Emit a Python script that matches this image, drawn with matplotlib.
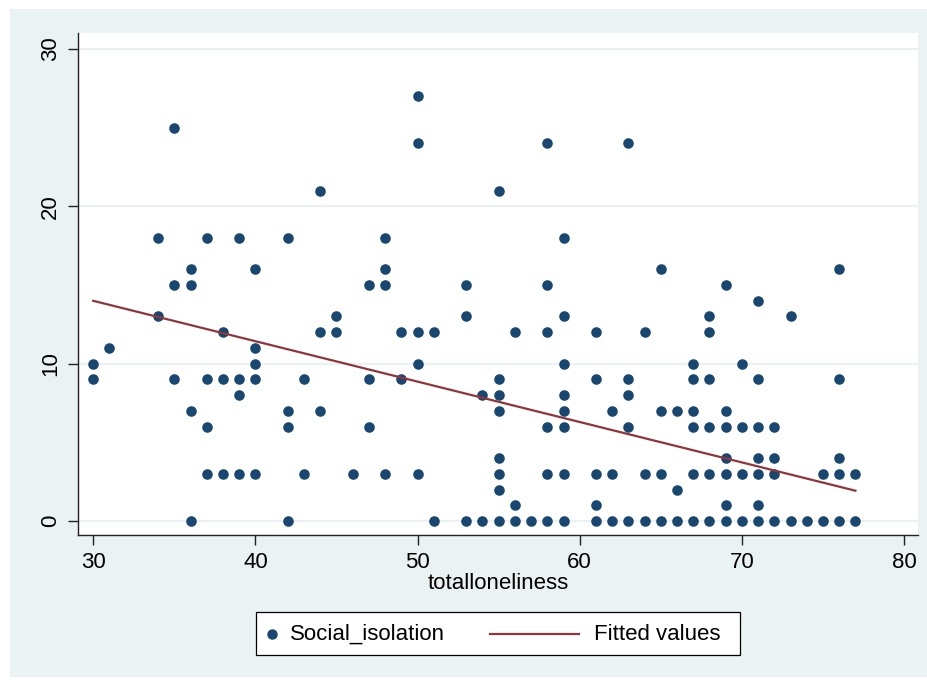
import matplotlib.pyplot as plt
import numpy as np
from matplotlib.patches import Rectangle
from matplotlib.lines import Line2D

plt.rcParams['font.family'] = ['Liberation Sans', 'DejaVu Sans']

#data: totalloneliness -> Social_isolation values at that score------
loneliness = [30, 31, 34, 35, 36, 37, 38, 39, 40, 42, 43, 44, 45, 46, 47, 48, 49, 50,
              51, 53, 54, 55, 56, 57, 58, 59, 61, 62, 63, 64, 65, 66, 67, 68, 69, 70,
              71, 72, 73, 74, 75, 76, 77]
isolation = [
    [10, 9], [11], [18, 13], [25, 15, 9], [16, 15, 7, 0], [18, 9, 6, 3],
    [12, 9, 3], [18, 9, 8, 3], [16, 11, 10, 9, 3], [18, 7, 6, 0], [9, 3],
    [21, 12, 7], [13, 12], [3], [15, 9, 6], [18, 16, 15, 3], [12, 9],
    [27, 24, 12, 10, 3], [12, 0], [15, 13, 0], [8, 0],
    [21, 9, 8, 7, 4, 3, 2, 0], [12, 1, 0], [0], [24, 15, 12, 6, 3, 0],
    [18, 13, 10, 8, 7, 6, 3, 0], [12, 9, 3, 1, 0], [7, 3, 0], [24, 9, 8, 6, 0],
    [12, 3, 0], [16, 7, 3, 0], [7, 2, 0], [10, 9, 7, 6, 3, 0],
    [13, 12, 9, 6, 3, 0], [15, 7, 6, 4, 3, 1, 0], [10, 6, 3, 0],
    [14, 9, 6, 4, 3, 1, 0], [6, 4, 3, 0], [13, 0], [0], [3, 0],
    [16, 9, 4, 3, 0], [3, 0]]

# fitted line coefficients
fit_intercept = 21.70
fit_slope = -0.2568

x = np.concatenate([[lx] * len(v) for lx, v in zip(loneliness, isolation)])
y = np.concatenate(isolation)

navy = '#1A476F'
maroon = '#90353B'
bg = '#EAF2F3'
W, H = 928, 683


def fx(px):
    return px / W


def fy(py):
    return 1 - py / H


fig = plt.figure(figsize=(9.28, 6.83), dpi=100)
fig.patch.set_facecolor('white')
fig.patches.append(Rectangle((fx(10), fy(677)), fx(918), 668 / H,
                             transform=fig.transFigure, facecolor=bg,
                             edgecolor='none', zorder=-5))

ax = fig.add_axes([fx(78), fy(535), fx(840), 502 / H])
ax.set_zorder(1)
ax.set_facecolor('white')

ax.scatter(x, y, s=58, color=navy, zorder=3, linewidths=0)
xf = np.array([min(loneliness), max(loneliness)])
ax.plot(xf, fit_intercept + fit_slope * xf, color=maroon, lw=1.6, zorder=4)

ax.set_xlim(29.06, 80.86)
ax.set_ylim(-0.89, 31.02)
ax.set_xticks([30, 40, 50, 60, 70, 80])
ax.set_yticks([0, 10, 20, 30])
ax.yaxis.grid(True, color=bg, lw=1.6)
ax.set_axisbelow(True)

for s in ['top', 'right']:
    ax.spines[s].set_visible(False)
for s in ['left', 'bottom']:
    ax.spines[s].set_color('#222222')
    ax.spines[s].set_linewidth(1.0)

ax.tick_params(axis='both', direction='out', length=7, width=1,
               color='#222222', labelsize=16, pad=5)
plt.setp(ax.get_yticklabels(), rotation=90, va='center')
ax.set_xlabel('totalloneliness', fontsize=16, labelpad=0)

# legend box drawn by hand (marker and line keys have different widths)
fig.patches.append(Rectangle((fx(256), fy(655)), fx(484), 43 / H,
                             transform=fig.transFigure, facecolor='white',
                             edgecolor='black', lw=0.9, zorder=2))
fig.add_artist(Line2D([fx(272)], [fy(634)], marker='o', ls='none', color=navy,
                      markersize=6.5, transform=fig.transFigure, zorder=3))
fig.text(fx(290), fy(634), 'Social_isolation', fontsize=16, va='center',
         ha='left', zorder=3)
fig.add_artist(Line2D([fx(490), fx(579)], [fy(634), fy(634)], color=maroon,
                      lw=1.6, transform=fig.transFigure, zorder=3))
fig.text(fx(594), fy(634), 'Fitted values', fontsize=16, va='center',
         ha='left', zorder=3)

plt.savefig('out.png', dpi=100)
